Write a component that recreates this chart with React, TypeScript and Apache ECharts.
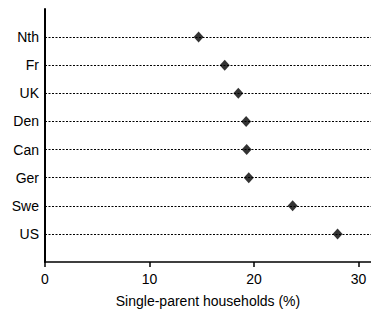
import React, { useEffect, useRef } from "react";
import * as echarts from "echarts";

const countries = ["Nth", "Fr", "UK", "Den", "Can", "Ger", "Swe", "US"];
const singleParentPct = [14.7, 17.2, 18.5, 19.25, 19.3, 19.5, 23.7, 28.0];
const xTicks = [0, 10, 20, 30];

export default function App() {
  const ref = useRef<HTMLDivElement>(null);
  useEffect(() => {
    if (!ref.current) return;
    const chart = echarts.init(ref.current, null, { renderer: "svg" });
    const cats = ["", ...countries, ""];
    const font = { fontFamily: "Liberation Sans, Arial, sans-serif", fontSize: 14, color: "#000" };
    chart.setOption({
      animation: false,
      grid: { left: 45, right: 0, top: 9, bottom: 48 },
      xAxis: {
        type: "value",
        min: 0,
        max: 31.2,
        interval: 10,
        name: "Single-parent households (%)",
        nameLocation: "middle",
        nameGap: 32,
        nameTextStyle: { ...font },
        axisLine: { show: true, lineStyle: { color: "#000", width: 1.5 } },
        axisTick: { show: true, length: 5, customValues: xTicks, lineStyle: { color: "#000", width: 1.5 } },
        axisLabel: { ...font, margin: 10, customValues: xTicks },
        splitLine: { show: false },
      },
      yAxis: {
        type: "category",
        data: cats,
        inverse: true,
        boundaryGap: false,
        axisLine: { show: true, lineStyle: { color: "#000", width: 2 } },
        axisTick: { show: false },
        axisLabel: { ...font, margin: 6, interval: 0 },
        splitLine: {
          show: true,
          interval: (_i: number, v: string) => v !== "",
          lineStyle: { color: "#000", type: [2, 1.5], width: 1 },
        },
      },
      series: [
        {
          type: "scatter",
          symbol: "diamond",
          symbolSize: [10, 11],
          itemStyle: { color: "#000" },
          data: countries.map((c, i) => [singleParentPct[i], c]),
        },
      ],
    });
    return () => chart.dispose();
  }, []);
  return <div ref={ref} style={{ width: 371, height: 313, position: "absolute", left: 0, top: 0 }} />;
}
